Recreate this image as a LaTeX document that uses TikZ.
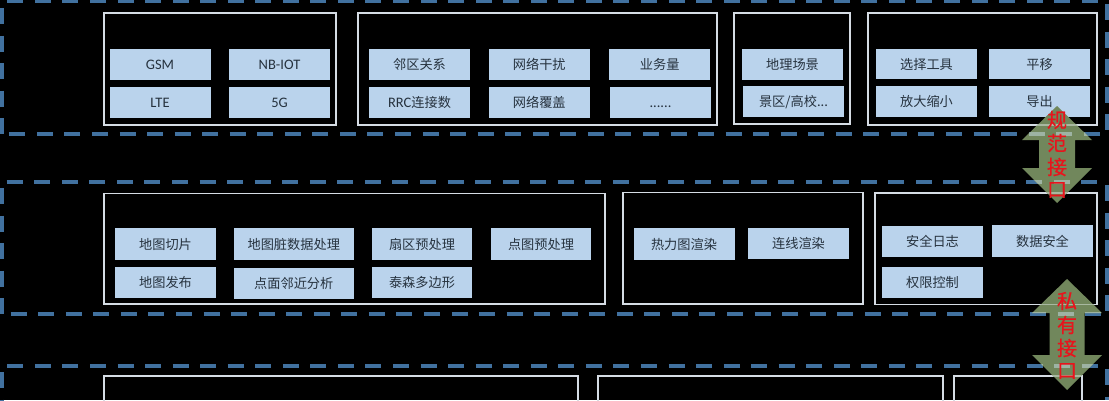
\documentclass[tikz,border=0pt]{standalone}
\usepackage{fontspec}
\setmainfont{Noto Sans CJK SC}
\newfontfamily\latinfont{Carlito}
\newfontfamily\redfont[FakeBold=0.5]{Noto Sans CJK SC}
\newcommand{\lat}[1]{{\latinfont\fontsize{14.5}{15}\selectfont #1}}
\definecolor{bandblue}{HTML}{41719F}
\definecolor{framecol}{HTML}{D5DCE4}
\definecolor{framethru}{HTML}{A8B8A0}
\definecolor{cellfill}{HTML}{BAD3EC}
\definecolor{celltext}{HTML}{26323E}
\definecolor{arrowgreen}{HTML}{71875C}
\definecolor{dashthru}{HTML}{9DB3A3}
\definecolor{labelred}{HTML}{E8141C}
\tikzset{
  x=1pt,y=-1pt,
  bandline/.style={draw=bandblue,line width=4pt,dash pattern=on 16pt off 11.55pt},
  sideline/.style={draw=bandblue,line width=4.6pt,dash pattern=on 16pt off 11.55pt},
  framebox/.style={draw=framecol,line width=1.5pt},
  cell/.style={fill=cellfill,draw=none},
  celltxt/.style={text=celltext,font=\fontsize{13.2}{15}\selectfont,inner sep=0pt,text height=10pt,text depth=3pt},
  arrowshape/.style={fill=arrowgreen,draw=none},
  arrowtxt/.style={text=labelred,font=\redfont\fontsize{20}{22}\selectfont,inner sep=0pt}
}
\newcommand{\cellat}[6]{%
  \fill[cell] (#2,#4) rectangle (#3,#5);
  \node[celltxt] (#1) at ({(#2+#3)/2},{(#4+#5)/2+1.5}) {#6};}
\newcommand{\updown}[7]{% cx tip1 base1 base2 tip2 halfhead halfshaft
  (#1,#2) -- (#1+#6,#3) -- (#1+#7,#3) -- (#1+#7,#4) -- (#1+#6,#4) -- (#1,#5) -- (#1-#6,#4) -- (#1-#7,#4) -- (#1-#7,#3) -- (#1-#6,#3) -- cycle}
\newcommand{\bandlines}[1]{%
  \draw[#1] (7.3,1) -- (1109,1);
  \draw[#1] (9.3,134) -- (1109,134);
  \draw[#1] (6.7,181.5) -- (1109,181.5);
  \draw[#1] (10.7,314) -- (1109,314);
  \draw[#1] (7.3,365.5) -- (1109,365.5);}
\newcommand{\framelines}[1]{%
  \draw[#1] (868,13) rectangle (1097,125);
  \draw[#1] (875,193) rectangle (1097,304.5);
  \draw[#1] (954,376) rectangle (1082,402);}
\begin{document}
\begin{tikzpicture}
\useasboundingbox (0,0) rectangle (1109,400);
\fill[black] (0,0) rectangle (1109,400);
% dashed bands
\bandlines{bandline}
\draw[sideline] (2,8) -- (2,134);
\draw[sideline] (1107,4) -- (1107,134);
\draw[sideline] (2,188) -- (2,316);
\draw[sideline] (1107,185) -- (1107,316);
\draw[sideline] (2,372) -- (2,400);
\draw[sideline] (1107,369) -- (1107,400);
% frames
\draw[framebox] (104,13) rectangle (336,125);
\draw[framebox] (358,13) rectangle (717,125);
\draw[framebox] (734,13) rectangle (850,124);
\draw[framebox] (104,193.5) rectangle (605,304);
\draw[framebox] (623,192.5) rectangle (863,304);
\draw[framebox] (104,376) rectangle (578,402);
\draw[framebox] (598,376) rectangle (943,402);
\framelines{framebox}
% cells
\cellat{a1}{109.5}{210.5}{49}{80}{\lat{GSM}}
\cellat{a2}{229}{330}{49}{80}{\lat{NB-IOT}}
\cellat{a3}{109.5}{210.5}{87}{118}{\lat{LTE}}
\cellat{a4}{229}{330}{87}{118}{\lat{5G}}
\cellat{b1}{369}{470}{49}{79.5}{邻区关系}
\cellat{b2}{489}{589.5}{49}{79.5}{网络干扰}
\cellat{b3}{609.3}{710}{49}{79.5}{业务量}
\cellat{b4}{369}{470}{87}{118}{\lat{RRC}连接数}
\cellat{b5}{489}{589.5}{87}{118}{网络覆盖}
\cellat{b6}{610}{711}{87}{118}{\lat{......}}
\cellat{c1}{742}{843}{49}{80}{地理场景}
\cellat{c2}{743}{844}{86}{117}{景区/高校\lat{...}}
\cellat{d1}{876}{977}{49}{79}{选择工具}
\cellat{d2}{989}{1090}{49}{79}{平移}
\cellat{d3}{876}{977}{86}{117}{放大缩小}
\cellat{d4}{989}{1090}{86}{117}{导出}
\cellat{e1}{115}{216}{228}{260}{地图切片}
\cellat{e2}{234}{353.5}{228}{260}{地图脏数据处理}
\cellat{e3}{372}{472}{228}{260}{扇区预处理}
\cellat{e4}{491}{591}{228}{260}{点图预处理}
\cellat{e5}{115}{216}{267}{298}{地图发布}
\cellat{e6}{234}{353.5}{268}{298.5}{点面邻近分析}
\cellat{e7}{372}{472}{267}{298}{泰森多边形}
\cellat{f1}{633.5}{734.5}{228}{260}{热力图渲染}
\cellat{f2}{748}{849}{228}{259}{连线渲染}
\cellat{g1}{882}{983}{226}{257}{安全日志}
\cellat{g2}{992}{1093}{225}{257}{数据安全}
\cellat{g3}{882}{983}{267}{298}{权限控制}
% arrows
\fill[arrowshape] \updown{1057}{106}{140}{168}{203}{35}{18};
\begin{scope}
\clip \updown{1057}{106}{140}{168}{203}{35}{18};
\bandlines{bandline,draw=dashthru}
\framelines{framebox,draw=framethru}
\end{scope}
\fill[arrowshape] \updown{1067}{279}{313}{355}{390}{35}{17.5};
\begin{scope}
\clip \updown{1067}{279}{313}{355}{390}{35}{17.5};
\bandlines{bandline,draw=dashthru}
\framelines{framebox,draw=framethru}
\end{scope}
\node[arrowtxt] (u1) at (1057,120) {规};
\node[arrowtxt] (u2) at (1057,143) {范};
\node[arrowtxt] (u3) at (1057,167) {接};
\node[arrowtxt] (u4) at (1057,190) {口};
\node[arrowtxt] (v1) at (1067,301) {私};
\node[arrowtxt] (v2) at (1067,325) {有};
\node[arrowtxt] (v3) at (1067,348) {接};
\node[arrowtxt] (v4) at (1067,371) {口};
\end{tikzpicture}
\end{document}
